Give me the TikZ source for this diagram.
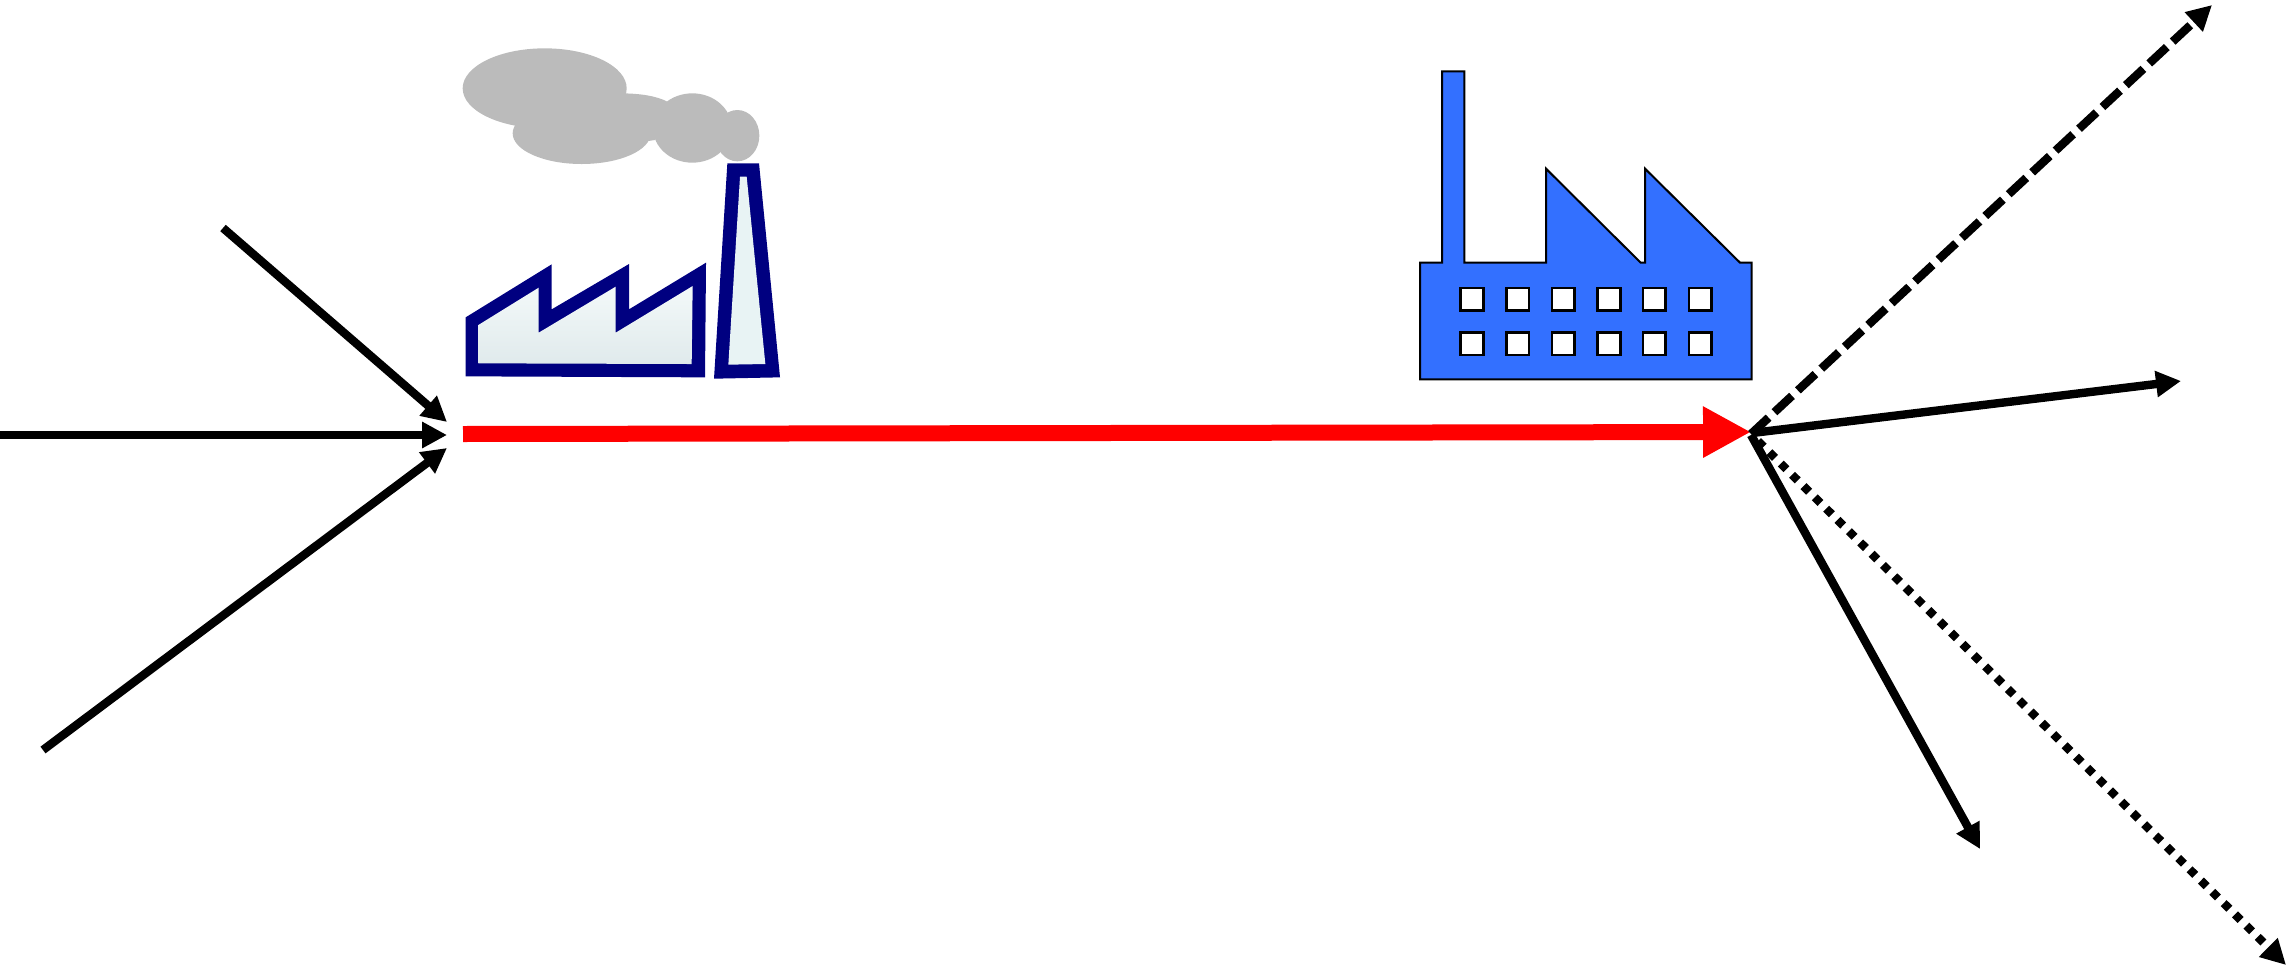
\documentclass[tikz,border=0pt]{standalone}
\usetikzlibrary{arrows.meta}
\definecolor{smoke}{HTML}{BBBBBB}
\definecolor{navyline}{HTML}{000080}
\definecolor{plantblue}{HTML}{3370FF}
\definecolor{paletop}{HTML}{F3F9F9}
\definecolor{palebot}{HTML}{E0EAEC}
\definecolor{palestack}{HTML}{E8F3F4}
\tikzset{
  flow/.style={line width=4.2pt,black,-{Triangle[length=12.5pt,width=12.5pt]}},
  redflow/.style={line width=8pt,red,-{Triangle[length=24pt,width=24pt]}},
  dashflow/.style={flow,dash pattern=on 12pt off 4pt},
  dotflow/.style={flow,dash pattern=on 4pt off 4pt},
  zoomA/.style={shift={(440,30)},x=0.16667pt,y=-0.16667pt},
  zoomB/.style={shift={(1400,50)},x=0.16667pt,y=-0.16667pt},
  win/.style={fill=white,draw=black,line width=1.2pt}
}
\begin{document}
\begin{tikzpicture}[x=0.5pt,y=-0.5pt]
\useasboundingbox (0,0) rectangle (2290,969);
% smoke
\begin{scope}[zoomA]
  \fill[smoke] (314,175) ellipse [x radius=246,y radius=120];
  \fill[smoke] (425,310) ellipse [x radius=207,y radius=92];
  \fill[smoke] (757,294) ellipse [x radius=118,y radius=104];
  \fill[smoke] (892,317) ellipse [x radius=66,y radius=77];
  \fill[smoke] (540,190) .. controls (600,190) and (650,198) .. (682,215) -- (645,330) -- (625,333) -- (450,300) -- cycle;
  % brick plant
  \fill[navyline] (77,862) -- (335,703) -- (335,838) -- (567,702) -- (567,838) -- (798,698) -- (795,1042) -- (77,1039) -- cycle;
  \shade[top color=paletop,bottom color=palebot] (115,885) -- (296,773) -- (296,908) -- (527,770) -- (527,908) -- (758,768) -- (755,1002) -- (115,1000) -- cycle;
  \fill[navyline] (862,400) -- (957,400) -- (1020,1042) -- (822,1046) -- cycle;
  \fill[palestack] (900,440) -- (920,440) -- (976,1002) -- (865,1004) -- cycle;
\end{scope}
% blue plant
\begin{scope}[zoomB]
  \filldraw[fill=plantblue,draw=black,line width=1pt,miter limit=4]
    (60,988) -- (60,638) -- (126,638) -- (126,64) -- (193,64) -- (193,638) -- (438,638) -- (438,356) -- (722,638) -- (735,638) -- (735,356) -- (1020,638) -- (1055,638) -- (1055,988) -- cycle;
  \foreach \wx in {216,353,490,627,763,900}
    \foreach \wy in {748,881}
      \draw[win] (\wx-34,\wy-34) rectangle (\wx+34,\wy+34);
\end{scope}
% connector ends
\coordinate (inA) at (223,228);
\coordinate (inB) at (0,435);
\coordinate (inC) at (43,750);
\coordinate (hubL) at (447,435);
\coordinate (tipA) at (447,422);
\coordinate (tipC) at (447,448);
\coordinate (redS) at (463,434);
\coordinate (redE) at (1751,432);
\coordinate (outD) at (1751,434);
\coordinate (outS) at (1752,433);
\coordinate (outL) at (1751,435);
\coordinate (outP) at (1758,441);
\coordinate (tipD) at (2212,5);
\coordinate (tipS) at (2181,381);
\coordinate (tipL) at (1980,849);
\coordinate (tipP) at (2286,965);
% inflows
\draw[flow] (inA) -- (tipA);
\draw[flow] (inB) -- (hubL);
\draw[flow] (inC) -- (tipC);
% main flow
\draw[redflow] (redS) -- (redE);
% outflows
\draw[dashflow] (outD) -- (tipD);
\draw[flow] (outS) -- (tipS);
\draw[flow] (outL) -- (tipL);
\draw[dotflow] (outP) -- (tipP);
\end{tikzpicture}
\end{document}
